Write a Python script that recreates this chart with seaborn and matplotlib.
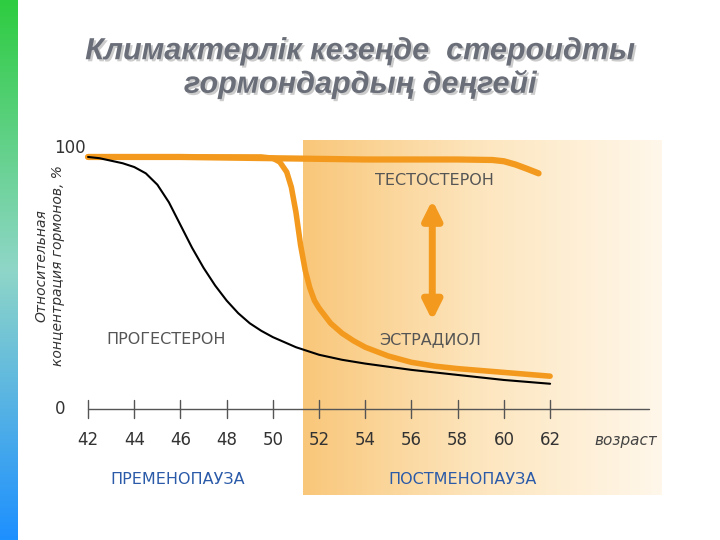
import numpy as np
import pandas as pd
import matplotlib
matplotlib.use("Agg")
import matplotlib.pyplot as plt
import matplotlib.patheffects as pe
import seaborn as sns
from matplotlib.colors import LinearSegmentedColormap

sns.set_style("white")
plt.rcParams['font.family'] = ['DejaVu Sans']

prog_age = [42, 42.5, 43, 43.5, 44, 44.5, 45, 45.5, 46, 46.5, 47, 47.5, 48, 48.5, 49, 49.5,
            50, 51, 52, 53, 54, 56, 58, 60, 62]
prog_val = [100, 99.5, 98.5, 97.5, 96, 93.5, 89, 82, 73, 64, 56, 49, 43, 38, 34, 31,
            28.5, 24.5, 21.5, 19.5, 18, 15.5, 13.5, 11.5, 10]
estr_age = [42, 46, 49.5, 50, 50.3, 50.6, 50.8, 51.0, 51.2, 51.4, 51.6, 51.8, 52, 52.5, 53,
            53.5, 54, 55, 56, 57, 58, 60, 62]
estr_val = [100, 100, 100, 99.5, 98, 94, 88, 78, 65, 55, 48, 43, 40, 34, 30,
            27, 24.5, 21, 18.5, 17, 16, 14.5, 13]
test_age = [42, 46, 50, 54, 58, 59.5, 60, 60.5, 61, 61.5]
test_val = [100, 100, 99.5, 99, 99, 98.8, 98.3, 97, 95.3, 93.5]
xticks = [42, 44, 46, 48, 50, 52, 54, 56, 58, 60, 62]

W, H = 720, 540
fig = plt.figure(figsize=(W / 100, H / 100), dpi=100)
bar = fig.add_axes([0, 0, 18 / W, 1])
grad = np.linspace(0, 1, 256).reshape(-1, 1)
bar.imshow(grad, aspect='auto', cmap=LinearSegmentedColormap.from_list('g', ['#2ecc40', '#8fd6c8', '#1e90ff']))
bar.axis('off')

ax = fig.add_axes([40 / W, 1 - 510 / H, 630 / W, 380 / H])
ax.set_xlim(39.92, 67.19)
ax.set_ylim(-40.1, 110.7)
ax.axis('off')

cm = LinearSegmentedColormap.from_list('o', ['#f9c77a', '#fde6bf', '#fff7ea'])
g = np.linspace(0, 1, 256).reshape(1, -1)
ax.imshow(g, aspect='auto', cmap=cm, extent=[51.3, 66.8, -34.1, 106.7], zorder=0)

orange = '#f39a1e'
df = pd.DataFrame({'age': prog_age, 'val': prog_val})
kw = dict(solid_joinstyle='round', solid_capstyle='round')
sns.lineplot(x=test_age, y=test_val, ax=ax, color=orange, lw=4.5, zorder=3, **kw)
sns.lineplot(x=estr_age, y=estr_val, ax=ax, color=orange, lw=4, zorder=3, **kw)
sns.lineplot(data=df, x='age', y='val', ax=ax, color='black', lw=1.5, zorder=4, **kw)

ax.plot([42, 66.3], [0, 0], color='#555555', lw=1)
for t in xticks:
    ax.plot([t, t], [3.5, -3.5], color='#555555', lw=1)
    ax.text(t, -12.5, str(t), ha='center', va='center', fontsize=12, color='#333333')
ax.text(41.9, 100, '100', ha='right', va='bottom', fontsize=12, color='#333333')
ax.text(41, 0, '0', ha='right', va='center', fontsize=12, color='#333333')
ax.text(40.35, 57, 'Относительная\nконцентрация гормонов, %', rotation=90, ha='center',
        va='center', fontsize=10, style='italic', color='#333333')
ax.text(63.9, -12.5, 'возраст', ha='left', va='center', fontsize=11, style='italic', color='#444444')

ax.annotate('', xy=(56.9, 84), xytext=(56.9, 34),
            arrowprops=dict(arrowstyle='<|-|>', color=orange, lw=5, mutation_scale=28))

tc = '#555555'
ax.text(57.0, 90.5, 'ТЕСТОСТЕРОН', ha='center', va='center', fontsize=11.5, color=tc)
ax.text(56.8, 27.5, 'ЭСТРАДИОЛ', ha='center', va='center', fontsize=11.5, color=tc)
ax.text(45.4, 27.5, 'ПРОГЕСТЕРОН', ha='center', va='center', fontsize=11.5, color=tc)
ax.text(45.9, -28, 'ПРЕМЕНОПАУЗА', ha='center', va='center', fontsize=11.5, color='#2a5aa8')
ax.text(58.2, -28, 'ПОСТМЕНОПАУЗА', ha='center', va='center', fontsize=11.5, color='#2a5aa8')

fig.text(360 / W, 1 - 68 / H, 'Климактерлік кезеңде  стероидты\nгормондардың деңгейі',
         ha='center', va='center', fontsize=22, style='italic', fontweight='bold',
         family=['Liberation Sans', 'DejaVu Sans'], color='#6a6e78', linespacing=1.1,
         path_effects=[pe.withSimplePatchShadow(offset=(1.5, -1.5), shadow_rgbFace='#c0c0c0', alpha=0.8)])

fig.savefig('out.png', dpi=100)
